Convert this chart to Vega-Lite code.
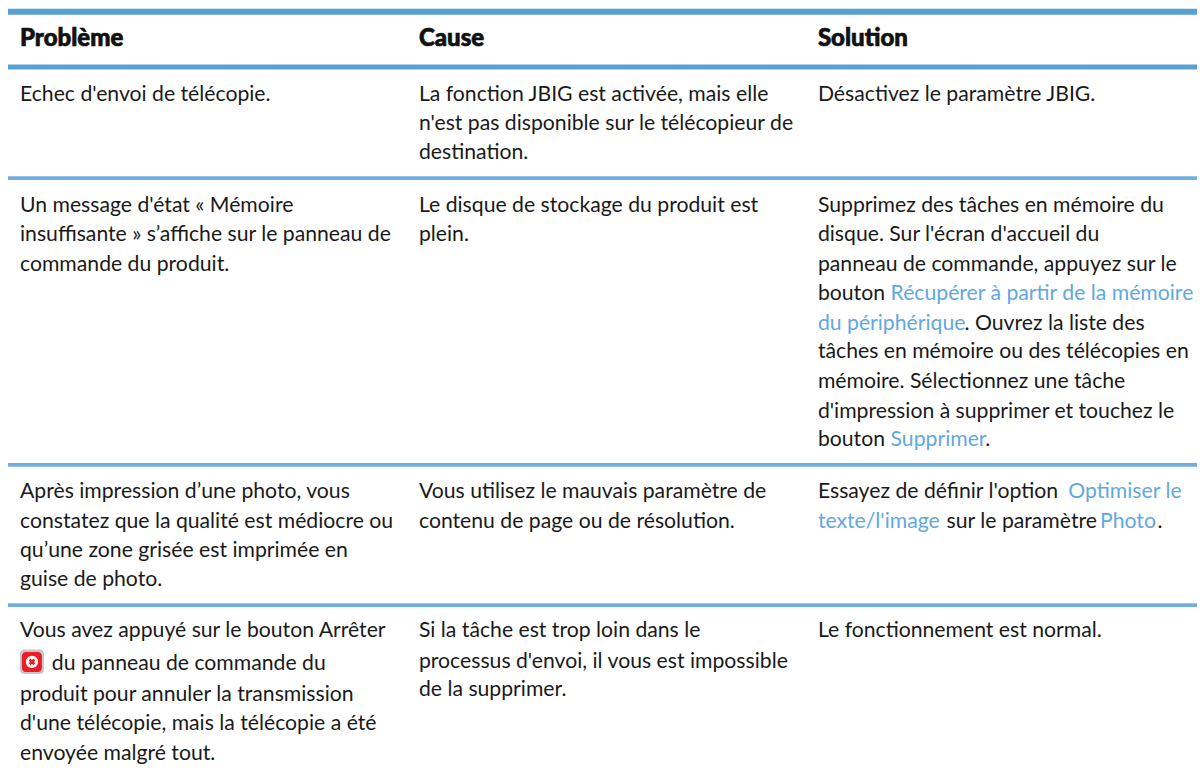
{
"$schema":"https://vega.github.io/schema/vega-lite/v6.json",
"width":1200,"height":776,"padding":0,
"autosize":{"type":"fit","contains":"padding"},
"background":"#ffffff",
"config":{"view":{"stroke":null}},
"resolve":{"scale":{"color":"independent"}},
"datasets":{
"filets":[
{"genre":"haut","ligne":-0.86,"debut":0.67,"fin":100},
{"genre":"entete","ligne":1.02,"debut":0.67,"fin":100},
{"genre":"rang","ligne":4.79,"debut":0.67,"fin":100},
{"genre":"rang","ligne":14.53,"debut":0.67,"fin":100},
{"genre":"rang","ligne":19.29,"debut":0.67,"fin":100}
],
"entetes":[
{"pos":1.67,"ligne":0,"texte":"Problème"},
{"pos":35,"ligne":0,"texte":"Cause"},
{"pos":68.33,"ligne":0,"texte":"Solution"}
],
"cellules":[
{"pos":1.67,"ligne":1.9,"texte":"Echec d'envoi de télécopie.","style":"noir"},
{"pos":1.67,"ligne":5.67,"texte":"Un message d'état « Mémoire","style":"noir"},
{"pos":1.67,"ligne":6.66,"texte":"insuffisante » s’affiche sur le panneau de","style":"noir"},
{"pos":1.67,"ligne":7.67,"texte":"commande du produit.","style":"noir"},
{"pos":1.67,"ligne":15.39,"texte":"Après impression d’une photo, vous","style":"noir"},
{"pos":1.67,"ligne":16.4,"texte":"constatez que la qualité est médiocre ou","style":"noir"},
{"pos":1.67,"ligne":17.39,"texte":"qu’une zone grisée est imprimée en","style":"noir"},
{"pos":1.67,"ligne":18.37,"texte":"guise de photo.","style":"noir"},
{"pos":1.67,"ligne":20.1,"texte":"Vous avez appuyé sur le bouton Arrêter","style":"noir"},
{"pos":4.33,"ligne":21.22,"texte":"du panneau de commande du","style":"noir"},
{"pos":1.67,"ligne":22.27,"texte":"produit pour annuler la transmission","style":"noir"},
{"pos":1.67,"ligne":23.26,"texte":"d'une télécopie, mais la télécopie a été","style":"noir"},
{"pos":1.67,"ligne":24.28,"texte":"envoyée malgré tout.","style":"noir"},
{"pos":35,"ligne":1.9,"texte":"La fonction JBIG est activée, mais elle","style":"noir"},
{"pos":35,"ligne":2.89,"texte":"n'est pas disponible sur le télécopieur de","style":"noir"},
{"pos":35,"ligne":3.87,"texte":"destination.","style":"noir"},
{"pos":35,"ligne":5.67,"texte":"Le disque de stockage du produit est","style":"noir"},
{"pos":35,"ligne":6.66,"texte":"plein.","style":"noir"},
{"pos":35,"ligne":15.39,"texte":"Vous utilisez le mauvais paramètre de","style":"noir"},
{"pos":35,"ligne":16.4,"texte":"contenu de page ou de résolution.","style":"noir"},
{"pos":35,"ligne":20.1,"texte":"Si la tâche est trop loin dans le","style":"noir"},
{"pos":35,"ligne":21.15,"texte":"processus d'envoi, il vous est impossible","style":"noir"},
{"pos":35,"ligne":22.1,"texte":"de la supprimer.","style":"noir"},
{"pos":68.33,"ligne":1.9,"texte":"Désactivez le paramètre JBIG.","style":"noir"},
{"pos":68.33,"ligne":5.67,"texte":"Supprimez des tâches en mémoire du","style":"noir"},
{"pos":68.33,"ligne":6.66,"texte":"disque. Sur l'écran d'accueil du","style":"noir"},
{"pos":68.33,"ligne":7.67,"texte":"panneau de commande, appuyez sur le","style":"noir"},
{"pos":68.33,"ligne":8.66,"texte":"bouton","style":"noir"},
{"pos":74.4,"ligne":8.66,"texte":"Récupérer à partir de la mémoire","style":"bleu"},
{"pos":68.33,"ligne":9.68,"texte":"du périphérique","style":"bleu"},
{"pos":80.58,"ligne":9.68,"texte":". Ouvrez la liste des","style":"noir"},
{"pos":68.33,"ligne":10.63,"texte":"tâches en mémoire ou des télécopies en","style":"noir"},
{"pos":68.33,"ligne":11.65,"texte":"mémoire. Sélectionnez une tâche","style":"noir"},
{"pos":68.33,"ligne":12.67,"texte":"d'impression à supprimer et touchez le","style":"noir"},
{"pos":68.33,"ligne":13.62,"texte":"bouton","style":"noir"},
{"pos":74.4,"ligne":13.62,"texte":"Supprimer","style":"bleu"},
{"pos":82.3,"ligne":13.62,"texte":".","style":"noir"},
{"pos":68.33,"ligne":15.39,"texte":"Essayez de définir l'option","style":"noir"},
{"pos":89.25,"ligne":15.39,"texte":"Optimiser le","style":"bleu"},
{"pos":68.33,"ligne":16.4,"texte":"texte/l'image","style":"bleu"},
{"pos":79.08,"ligne":16.4,"texte":"sur le paramètre","style":"noir"},
{"pos":91.9,"ligne":16.4,"texte":"Photo","style":"bleu"},
{"pos":96.7,"ligne":16.4,"texte":".","style":"noir"},
{"pos":68.33,"ligne":20.1,"texte":"Le fonctionnement est normal.","style":"noir"}
],
"icone":[
{"partie":"cadre","x1":1.67,"x2":3.67,"y1":20.8,"y2":21.63},
{"partie":"fond","x1":1.83,"x2":3.5,"y1":20.88,"y2":21.56}
],
"croix":[{"pos":2.67,"ligne":21.22}]
},
"layer":[
{"data":{"name":"filets"},
 "mark":{"type":"rule"},
 "encoding":{
  "x":{"field":"debut","type":"quantitative","scale":{"domain":[0,100],"nice":false},"axis":null},
  "x2":{"field":"fin"},
  "y":{"field":"ligne","type":"quantitative","scale":{"domain":[25.094,-1.2563],"nice":false,"zero":false},"axis":null},
  "strokeWidth":{"field":"genre","type":"nominal","scale":{"domain":["haut","entete","rang"],"range":[6,3.7,1.5]},"legend":null},
  "color":{"field":"genre","type":"nominal","scale":{"domain":["haut","entete","rang"],"range":["#5a9fd4","#5a9fd4","#70aee0"]},"legend":null}
 }},
{"data":{"name":"entetes"},
 "mark":{"type":"text","align":"left","baseline":"middle","dy":2,"font":"Lato","fontSize":24,"fontWeight":900,"color":"#111111","stroke":"#111111","strokeWidth":0.7},
 "encoding":{
  "x":{"field":"pos","type":"quantitative"},
  "y":{"field":"ligne","type":"quantitative"},
  "text":{"field":"texte"}
 }},
{"data":{"name":"cellules"},
 "mark":{"type":"text","align":"left","baseline":"middle","dy":2,"font":"Lato","fontSize":21.2},
 "encoding":{
  "x":{"field":"pos","type":"quantitative"},
  "y":{"field":"ligne","type":"quantitative"},
  "text":{"field":"texte"},
  "color":{"field":"style","type":"nominal","scale":{"domain":["noir","bleu"],"range":["#1a1a1a","#62a8e0"]},"legend":null}
 }},
{"data":{"name":"icone"},
 "mark":{"type":"rect","cornerRadius":4},
 "encoding":{
  "x":{"field":"x1","type":"quantitative"},
  "x2":{"field":"x2"},
  "y":{"field":"y1","type":"quantitative"},
  "y2":{"field":"y2"},
  "color":{"field":"partie","type":"nominal","scale":{"domain":["cadre","fond"],"range":["#c4c8cc","#ee1c25"]},"legend":null}
 }},
{"data":{"name":"croix"},
 "mark":{"type":"point","filled":true,"shape":"circle","size":150,"color":"#ffffff","opacity":1},
 "encoding":{
  "x":{"field":"pos","type":"quantitative"},
  "y":{"field":"ligne","type":"quantitative"}
 }},
{"data":{"name":"croix"},
 "mark":{"type":"point","shape":"cross","filled":true,"size":45,"color":"#ee1c25","angle":45,"opacity":1},
 "encoding":{
  "x":{"field":"pos","type":"quantitative"},
  "y":{"field":"ligne","type":"quantitative"}
 }}
]
}
